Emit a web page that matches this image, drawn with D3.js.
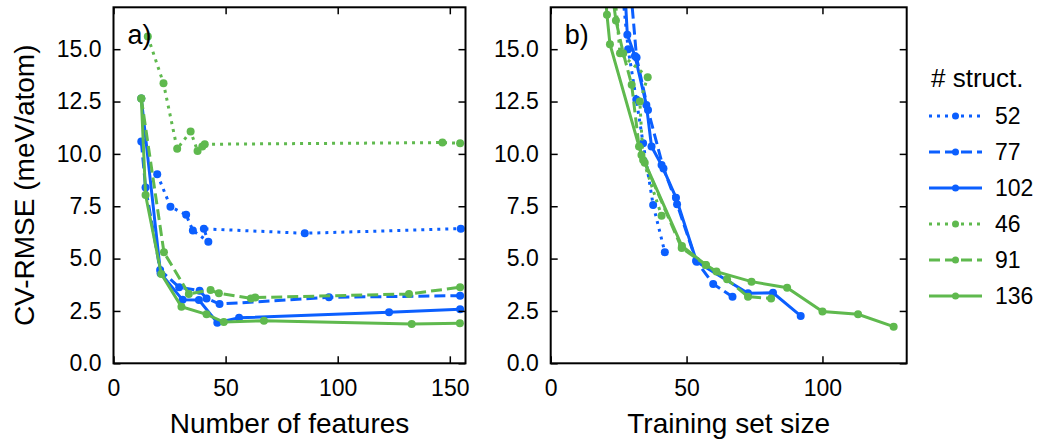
<!DOCTYPE html>
<html lang="en">
<head>
<meta charset="UTF-8">
<title>CV-RMSE vs features and training set size</title>
<script src="https://d3js.org/d3.v7.min.js"></script>
<style>
    body { margin: 0; background: #fff; }
    svg { display: block; font-family: "Liberation Sans", Arial, sans-serif; }
    .frame { fill: none; stroke: #000; stroke-width: 2; }
    .tick line { stroke: #000; stroke-width: 1.5; }
    .tick text { font-size: 23px; fill: #000; }
    .domain { display: none; }
    .title { font-size: 28px; fill: #000; }
    .legend text { font-size: 23px; fill: #000; }
</style>
</head>
<body>
<svg id="chart" width="1040" height="441"></svg>
<script>
    // number of structures per run, in legend order
    const structures = [52, 77, 102, 46, 91, 136];

    // panel a) [number of features, CV-RMSE (meV/atom)]
    const featA52  = [[19.5, 9.03], [25.4, 7.48], [32.4, 7.09], [35.4, 6.34], [42.3, 5.81], [40.3, 6.42], [85.3, 6.21], [154.9, 6.43]];
    const featA77  = [[12.4, 10.59], [14.3, 8.4], [20.8, 4.45], [29.3, 3.63], [38.4, 3.47], [41.5, 3.1], [47.3, 2.83], [96.1, 3.15], [154.6, 3.23]];
    const featA102 = [[12.4, 12.65], [21.0, 4.3], [30.8, 3.03], [38.1, 3.02], [46.3, 1.94], [56.0, 2.17], [122.9, 2.44], [154.6, 2.58]];
    const featA46  = [[15.3, 15.6], [22.3, 13.37], [28.4, 10.24], [34.4, 11.07], [37.5, 10.14], [39.6, 10.35], [40.7, 10.46], [146.7, 10.54], [154.6, 10.51]];
    const featA91  = [[12.4, 12.65], [22.5, 5.3], [33.6, 3.31], [43.3, 3.5], [47.0, 3.34], [61.3, 3.1], [63.2, 3.14], [131.8, 3.31], [154.6, 3.63]];
    const featA136 = [[12.4, 12.65], [14.3, 8.04], [21.3, 4.27], [30.3, 2.7], [41.5, 2.34], [49.2, 1.97], [67.1, 2.03], [133.0, 1.88], [154.5, 1.91]];

    // panel b) [training set size, CV-RMSE (meV/atom)]
    const trainB52  = [[25.8, 18.5], [28.5, 15.0], [31.5, 12.6], [34.0, 10.51], [37.7, 7.56], [42.0, 5.3]];
    const trainB77  = [[29.0, 18.5], [31.6, 14.6], [35.8, 12.1], [41.5, 9.3], [46.5, 7.6], [53.5, 4.9], [59.8, 3.79], [66.9, 3.18]];
    const trainB102 = [[27.0, 18.5], [28.2, 15.69], [31.0, 14.68], [35.2, 12.34], [37.1, 10.35], [40.8, 9.47], [46.1, 7.91], [53.7, 4.85], [72.6, 3.34], [81.8, 3.37], [92.0, 2.26]];
    const trainB46  = [[23.0, 18.5], [25.5, 14.81], [35.7, 13.66], [32.8, 12.5], [34.0, 9.71], [40.8, 7.05]];
    const trainB91  = [[21.8, 18.5], [24.0, 16.37], [26.7, 14.81], [29.8, 13.3], [32.5, 10.35], [34.6, 9.58], [48.2, 5.5], [57.1, 4.7], [64.9, 4.01], [72.6, 3.18], [81.1, 3.1]];
    const trainB136 = [[19.6, 18.5], [20.7, 16.65], [21.8, 15.24], [33.4, 9.95], [48.3, 5.6], [57.1, 4.7], [61.0, 4.38], [73.9, 3.9], [87.0, 3.61], [100.0, 2.47], [113.1, 2.34], [126.2, 1.75]];

    const yTicks = [0, 2.5, 5, 7.5, 10, 12.5, 15];
    const xTicksA = [0, 50, 100, 150];
    const xTicksB = [0, 50, 100];

    const blue = "#0b5fff";
    const green = "#5fb94e";
    const styles = {
        52:  { color: blue,  dash: "3,5" },
        77:  { color: blue,  dash: "11,5" },
        102: { color: blue,  dash: null },
        46:  { color: green, dash: "3,5" },
        91:  { color: green, dash: "11,5" },
        136: { color: green, dash: null }
    };

    const panelA = { 52: featA52, 77: featA77, 102: featA102, 46: featA46, 91: featA91, 136: featA136 };
    const panelB = { 52: trainB52, 77: trainB77, 102: trainB102, 46: trainB46, 91: trainB91, 136: trainB136 };

    const svg = d3.select("#chart");
    const plotTop = 7.3, plotBottom = 363.3;
    const y = d3.scaleLinear().domain([0, 17]).range([plotBottom, plotTop]);

    function drawPanel(id, left, right, xMax, xTicks, series, tag, xTitle) {
        const x = d3.scaleLinear().domain([0, xMax]).range([left, right]);
        const g = svg.append("g");

        g.append("clipPath").attr("id", "clip-" + id)
            .append("rect")
            .attr("x", left).attr("y", plotTop)
            .attr("width", right - left).attr("height", plotBottom - plotTop);

        const plot = g.append("g").attr("clip-path", `url(#clip-${id})`);
        const line = d3.line().x(d => x(d[0])).y(d => y(d[1]));

        structures.forEach(n => {
            const s = styles[n];
            plot.append("path")
                .datum(series[n])
                .attr("d", line)
                .attr("fill", "none")
                .attr("stroke", s.color)
                .attr("stroke-width", 3)
                .attr("stroke-dasharray", s.dash);
            plot.selectAll(null)
                .data(series[n])
                .enter()
                .append("circle")
                .attr("cx", d => x(d[0]))
                .attr("cy", d => y(d[1]))
                .attr("r", 4)
                .attr("fill", s.color);
        });

        // inward ticks on all four sides
        g.append("g").attr("transform", `translate(${left},0)`)
            .call(d3.axisLeft(y).tickValues(yTicks).tickSize(-7).tickPadding(12).tickFormat(d3.format(".1f")));
        g.append("g").attr("transform", `translate(${right},0)`)
            .call(d3.axisRight(y).tickValues(yTicks).tickSize(-7).tickFormat(""));
        g.append("g").attr("transform", `translate(0,${plotBottom})`)
            .call(d3.axisBottom(x).tickValues(xTicks).tickSize(-7).tickPadding(16).tickFormat(d3.format("d")));
        g.append("g").attr("transform", `translate(0,${plotTop})`)
            .call(d3.axisTop(x).tickValues(xTicks).tickSize(-7).tickFormat(""));

        g.append("rect").attr("class", "frame")
            .attr("x", left).attr("y", plotTop)
            .attr("width", right - left).attr("height", plotBottom - plotTop);

        g.append("text")
            .attr("x", left + 14).attr("y", 44)
            .attr("font-size", 27)
            .text(tag);

        g.append("text").attr("class", "title")
            .attr("x", (left + right) / 2).attr("y", 433)
            .attr("text-anchor", "middle")
            .text(xTitle);
    }

    drawPanel("a", 113.5, 465.5, 157, xTicksA, panelA, "a)", "Number of features");
    drawPanel("b", 550.7, 906.7, 131, xTicksB, panelB, "b)", "Training set size");

    svg.append("text").attr("class", "title")
        .attr("transform", `translate(34,${(plotTop + plotBottom) / 2}) rotate(-90)`)
        .attr("text-anchor", "middle")
        .text("CV-RMSE (meV/atom)");

    // legend
    const legend = svg.append("g").attr("class", "legend");
    legend.append("text")
        .attr("x", 931).attr("y", 87)
        .style("font-size", "26px")
        .text("# struct.");

    const rows = legend.selectAll("g.row")
        .data(structures)
        .enter()
        .append("g")
        .attr("class", "row")
        .attr("transform", (d, i) => `translate(0,${116 + i * 36})`);

    rows.append("line")
        .attr("x1", 929).attr("x2", 982)
        .attr("stroke", d => styles[d].color)
        .attr("stroke-width", 3)
        .attr("stroke-dasharray", d => styles[d].dash);
    rows.append("circle")
        .attr("cx", 955.5).attr("r", 3.5)
        .attr("fill", d => styles[d].color);
    rows.append("text")
        .attr("x", 995).attr("dy", "0.35em")
        .text(d => d);
</script>
</body>
</html>
